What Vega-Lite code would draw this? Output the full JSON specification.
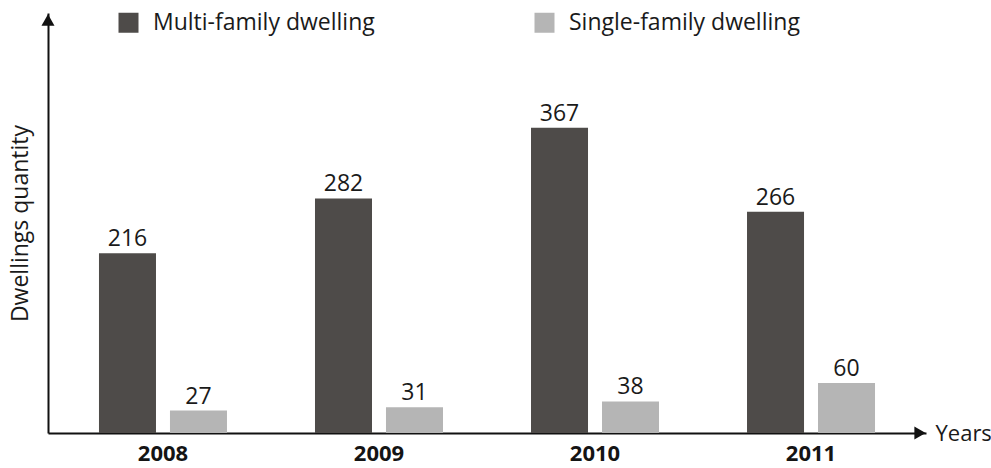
{
  "$schema": "https://vega.github.io/schema/vega-lite/v6.json",
  "autosize": {"type": "none"},
  "padding": {"left": 48, "top": 13, "right": 65, "bottom": 35},
  "width": 878,
  "height": 420,
  "background": "white",
  "config": {
    "view": {"stroke": null},
    "font": "Open Sans",
    "text": {"font": "Open Sans"}
  },
  "datasets": {
    "dwellings": [
      {"year": "2008", "type": "Multi-family dwelling", "dwellings": 216},
      {"year": "2008", "type": "Single-family dwelling", "dwellings": 27},
      {"year": "2009", "type": "Multi-family dwelling", "dwellings": 282},
      {"year": "2009", "type": "Single-family dwelling", "dwellings": 31},
      {"year": "2010", "type": "Multi-family dwelling", "dwellings": 367},
      {"year": "2010", "type": "Single-family dwelling", "dwellings": 38},
      {"year": "2011", "type": "Multi-family dwelling", "dwellings": 266},
      {"year": "2011", "type": "Single-family dwelling", "dwellings": 60}
    ]
  },
  "layer": [
    {
      "data": {"name": "dwellings"},
      "mark": {"type": "bar"},
      "encoding": {
        "x": {
          "field": "year",
          "type": "nominal",
          "scale": {"paddingInner": 0.4074, "paddingOuter": 0.236},
          "axis": {
            "title": "Years",
            "titleX": 887,
            "titleY": 0,
            "titleAlign": "left",
            "titleBaseline": "middle",
            "titleFont": "Open Sans",
            "titleFontSize": 22,
            "titleFontWeight": "normal",
            "titleColor": "#1a1a1a",
            "labelAngle": 0,
            "labelFont": "Open Sans",
            "labelFontSize": 22,
            "labelFontWeight": "bold",
            "labelColor": "#141414",
            "labelPadding": 10,
            "ticks": false,
            "domainColor": "#111111",
            "domainWidth": 2
          }
        },
        "xOffset": {
          "field": "type",
          "type": "nominal",
          "sort": ["Multi-family dwelling", "Single-family dwelling"],
          "scale": {"paddingInner": 0.197, "paddingOuter": 0}
        },
        "y": {
          "field": "dwellings",
          "type": "quantitative",
          "scale": {"domain": [0, 505], "nice": false},
          "axis": {
            "title": "Dwellings quantity",
            "titleFont": "Open Sans",
            "titleFontSize": 23,
            "titleFontWeight": "normal",
            "titleColor": "#1a1a1a",
            "titlePadding": 16,
            "labels": false,
            "ticks": false,
            "grid": false,
            "domainColor": "#111111",
            "domainWidth": 2
          }
        },
        "color": {
          "field": "type",
          "type": "nominal",
          "scale": {
            "domain": ["Multi-family dwelling", "Single-family dwelling"],
            "range": ["#4e4b49", "#b5b5b5"]
          },
          "legend": {
            "title": null,
            "orient": "none",
            "direction": "horizontal",
            "legendX": 69,
            "legendY": -2,
            "symbolType": "square",
            "symbolSize": 400,
            "symbolStrokeWidth": 0,
            "symbolOpacity": 1,
            "labelFont": "Open Sans",
            "labelFontSize": 23,
            "labelColor": "#1a1a1a",
            "labelOffset": 13,
            "labelLimit": 400,
            "columnPadding": 158
          }
        }
      }
    },
    {
      "data": {"name": "dwellings"},
      "mark": {
        "type": "text",
        "baseline": "alphabetic",
        "dy": -7,
        "fontSize": 23,
        "font": "Open Sans",
        "color": "#1a1a1a"
      },
      "encoding": {
        "x": {"field": "year", "type": "nominal"},
        "xOffset": {
          "field": "type",
          "type": "nominal",
          "sort": ["Multi-family dwelling", "Single-family dwelling"]
        },
        "y": {"field": "dwellings", "type": "quantitative"},
        "text": {"field": "dwellings", "type": "quantitative"}
      }
    },
    {
      "data": {"values": [{"end": "y"}]},
      "mark": {
        "type": "point",
        "shape": "triangle-up",
        "filled": true,
        "opacity": 1,
        "color": "#111111",
        "size": 170,
        "yOffset": 7
      },
      "encoding": {
        "x": {"value": 0},
        "y": {"datum": 505}
      }
    },
    {
      "data": {"values": [{"end": "x"}]},
      "mark": {
        "type": "point",
        "shape": "triangle-right",
        "filled": true,
        "opacity": 1,
        "color": "#111111",
        "size": 170,
        "x": "width",
        "y": "height",
        "xOffset": -6
      },
      "encoding": {}
    }
  ]
}
